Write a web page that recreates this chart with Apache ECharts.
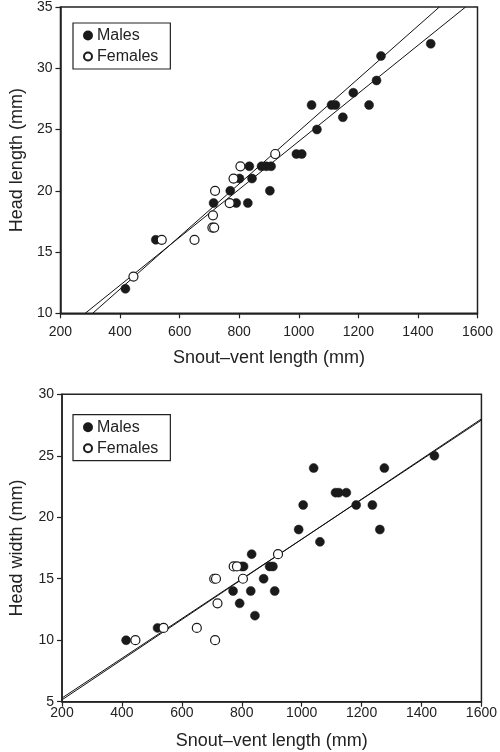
<!DOCTYPE html>
<html>
<head>
<meta charset="utf-8">
<script src="https://cdn.jsdelivr.net/npm/echarts@6/dist/echarts.min.js"></script>
<style>
html,body{margin:0;padding:0;background:#fff;}
#chart{width:500px;height:752px;}
</style>
</head>
<body>
<div id="chart"></div>
<script>
// ---- Panel A: head length ----
const hlMalesX = [418, 520, 714, 770, 790, 829, 801, 843, 834, 875, 891, 907, 903, 992, 1010, 1043, 1110, 1123, 1183, 1148, 1061, 1236, 1261, 1276, 1443];
const hlMalesY = [12, 16, 19, 20, 19, 19, 21, 21, 22, 22, 22, 22, 20, 23, 23, 27, 27, 27, 28, 26, 25, 27, 29, 31, 32];
const hlFemalesX = [445, 540, 650, 712, 710, 716, 719, 768, 781, 804, 921];
const hlFemalesY = [13, 16, 16, 18, 17, 17, 20, 19, 21, 22, 23];
const hlLine1X = [283, 1560], hlLine1Y = [10, 35];
const hlLine2X = [308, 1472], hlLine2Y = [10, 35];

// ---- Panel B: head width ----
const hwMalesX = [414, 519, 771, 793, 830, 844, 873, 910, 833, 800, 806, 893, 904, 990, 1005, 1040, 1061, 1113, 1124, 1149, 1182, 1236, 1261, 1276, 1443];
const hwMalesY = [10, 11, 14, 13, 14, 12, 15, 14, 17, 16, 16, 16, 16, 19, 21, 24, 18, 22, 22, 22, 21, 21, 19, 24, 25];
const hwFemalesX = [445, 539, 650, 711, 708, 714, 719, 773, 784, 804, 921];
const hwFemalesY = [10, 11, 11, 10, 15, 15, 13, 16, 16, 15, 17];
const hwLine1X = [200, 1600], hwLine1Y = [5.3, 27.9];
const hwLine2X = [200, 1600], hwLine2Y = [5.15, 28.0];

const xTicks = [200, 400, 600, 800, 1000, 1200, 1400, 1600];
const hlTicks = [10, 15, 20, 25, 30, 35];
const hwTicks = [5, 10, 15, 20, 25, 30];
const xTitle = 'Snout–vent length (mm)';
const hlTitle = 'Head length (mm)';
const hwTitle = 'Head width (mm)';
const seriesNames = ['Males', 'Females'];

const zip = (xs, ys) => xs.map((x, i) => [x, ys[i]]);
const FONT = '"Liberation Sans", Arial, Helvetica, sans-serif';
const INK = '#222';

function xAxis(gi, margin, gap) {
  return {
    type: 'value', gridIndex: gi, min: xTicks[0], max: xTicks[xTicks.length - 1], interval: 200,
    name: xTitle, nameLocation: 'middle', nameGap: gap,
    nameTextStyle: { fontFamily: FONT, fontSize: 18, color: INK },
    axisLine: { show: true, lineStyle: { color: INK, width: 1.5 } },
    axisTick: { show: true, length: 5, lineStyle: { color: INK, width: 1.2 } },
    axisLabel: { fontFamily: FONT, fontSize: 14, color: INK, margin: margin, formatter: v => String(v) },
    splitLine: { show: false }
  };
}
function yAxis(gi, ticks, title, gap) {
  return {
    type: 'value', gridIndex: gi, min: ticks[0], max: ticks[ticks.length - 1], interval: 5,
    name: title, nameLocation: 'middle', nameGap: gap, nameRotate: 90,
    nameTextStyle: { fontFamily: FONT, fontSize: 18, color: INK },
    axisLine: { show: true, lineStyle: { color: INK, width: 1.5 } },
    axisTick: { show: true, length: 5, lineStyle: { color: INK, width: 1.2 } },
    axisLabel: { fontFamily: FONT, fontSize: 14, color: INK, margin: 8, formatter: v => String(v) },
    splitLine: { show: false }
  };
}
const maleStyle = { color: '#1a1a1a', borderColor: '#1a1a1a', borderWidth: 0.5, opacity: 1 };
const femaleStyle = { color: '#ffffff', borderColor: '#1a1a1a', borderWidth: 1.2, opacity: 1 };
function scatter(name, gi, xs, ys, style) {
  return { type: 'scatter', name: name, xAxisIndex: gi, yAxisIndex: gi, data: zip(xs, ys),
    symbol: 'circle', symbolSize: 9, itemStyle: style, z: 5 };
}
function line(gi, xs, ys) {
  return { type: 'line', xAxisIndex: gi, yAxisIndex: gi, data: zip(xs, ys), symbol: 'none',
    lineStyle: { color: '#111', width: 1 }, silent: true, z: 3, clip: true };
}
function legend(top) {
  return {
    data: seriesNames, orient: 'vertical', left: 73, top: top,
    backgroundColor: '#fff', borderColor: INK, borderWidth: 1.2, borderRadius: 0,
    padding: [2, 12, 2, 10], itemGap: 0, itemWidth: 8, itemHeight: 8,
    textStyle: { fontFamily: FONT, fontSize: 16, color: INK, lineHeight: 21 },
    selectedMode: false
  };
}

const chart = echarts.init(document.getElementById('chart'), null, { renderer: 'canvas' });
chart.setOption({
  animation: false,
  backgroundColor: '#fff',
  grid: [
    { left: 50, top: 5, width: 427.5, height: 308.3, show: true, borderColor: INK, borderWidth: 1.5 },
    { left: 56.7, top: 394.3, width: 427.3, height: 307.4, show: true, borderColor: INK, borderWidth: 1.5 }
  ],
  xAxis: [xAxis(0, 12, 36), xAxis(1, 4, 30)],
  yAxis: [yAxis(0, hlTicks, hlTitle, 30), yAxis(1, hwTicks, hwTitle, 36)],
  legend: [legend(23), legend(414.7)],
  series: [
    line(0, hlLine1X, hlLine1Y),
    line(0, hlLine2X, hlLine2Y),
    scatter('Males', 0, hlMalesX, hlMalesY, maleStyle),
    scatter('Females', 0, hlFemalesX, hlFemalesY, femaleStyle),
    line(1, hwLine1X, hwLine1Y),
    line(1, hwLine2X, hwLine2Y),
    scatter('Males', 1, hwMalesX, hwMalesY, maleStyle),
    scatter('Females', 1, hwFemalesX, hwFemalesY, femaleStyle)
  ]
});
</script>
</body>
</html>
